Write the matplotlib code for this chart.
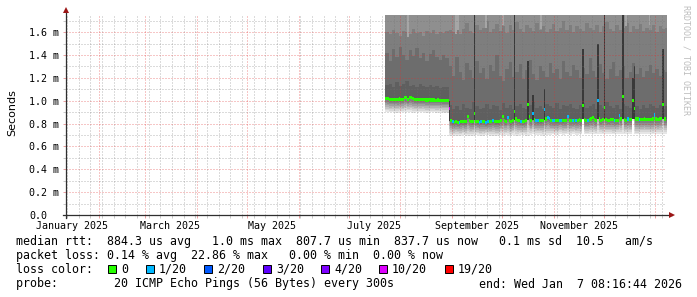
import numpy as np
import pandas as pd
import matplotlib
matplotlib.use("Agg")
import matplotlib.pyplot as plt
import matplotlib.dates as mdates
from matplotlib.ticker import MultipleLocator, NullFormatter
from matplotlib.patches import Rectangle
from matplotlib.transforms import blended_transform_factory

plt.rcParams['font.family'] = ['DejaVu Sans Mono']

W, H = 697, 297

# graph window: 360 days up to "end"
end = pd.Timestamp('2026-01-07 08:16:44')
start = end - pd.Timedelta(days=360)
first_day = pd.Timestamp('2025-07-23')

# daily median rtt (ms), from 2025-07-23
median_ms = [
    1.022, 1.018, 1.008, 1.008, 1.01, 1.008, 1.01, 1.008, 1.015, 1.01,
    1.008, 1.028, 1.032, 1.01, 1.025, 1.03, 1.018, 1.01, 1.008, 1.012,
    1.008, 1.008, 1.01, 1.008, 1.006, 1.006, 1.008, 1.006, 1.006, 1.006,
    1.005, 1.006, 1.005, 1.005, 1.004, 1.004, 1.004, 1.002,
    0.935,
    0.83, 0.815, 0.81, 0.815, 0.81, 0.81, 0.815, 0.82, 0.815, 0.815,
    0.86, 0.83, 0.82, 0.815, 0.885, 0.82, 0.815, 0.81, 0.815, 0.82,
    0.815, 0.81, 0.815, 0.82, 0.82, 0.825, 0.82, 0.815, 0.815, 0.82,
    0.83, 0.86, 0.83, 0.82, 0.85, 0.83, 0.82, 0.825, 0.905, 0.84,
    0.83, 0.825, 0.82, 0.82, 0.815, 0.83, 0.97, 0.86, 0.83, 0.89,
    0.835, 0.83, 0.825, 0.83, 0.825, 0.83, 0.92, 0.84, 0.85, 0.845,
    0.83, 0.825, 0.83, 0.825, 0.825, 0.83, 0.83, 0.825, 0.83, 0.825,
    0.865, 0.83, 0.83, 0.825, 0.83, 0.825, 0.83, 0.835, 0.83, 0.96,
    0.835, 0.83, 0.83, 0.835, 0.84, 0.85, 0.835, 0.83, 1.0, 0.84,
    0.83, 0.835, 0.94, 0.835, 0.83, 0.83, 0.835, 0.835, 0.83, 0.83,
    0.83, 0.87, 0.84, 1.04, 0.835, 0.83, 0.84, 0.835, 0.835, 1.0,
    0.935, 0.84, 0.84, 0.835, 0.835, 0.835, 0.84, 0.835, 0.835, 0.835,
    0.835, 0.84, 0.875, 0.84, 0.835, 0.84, 0.845, 0.97, 0.84, 0.84,
]

# days (index from 2025-07-23) with packet loss, and lost pings out of 20
loss_days = [38, 40, 44, 56, 57, 60, 61, 64, 73, 81, 88, 90, 91, 95, 97,
             98, 100, 101, 104, 105, 109, 112, 114, 121, 127, 137, 140, 145, 152, 161]
loss_vals = [10, 1, 1, 1, 1, 1, 1, 1, 1, 1, 1, 1, 1, 1, 1,
             1, 1, 1, 1, 1, 1, 1, 1, 1, 1, 1, 1, 1, 1, 1]

# smoke, one value per 2 days (ms)
smoke_low = [
    0.90, 0.90, 0.90, 0.895, 0.90, 0.90, 0.905, 0.90, 0.895, 0.90,
    0.90, 0.90, 0.895, 0.90, 0.90, 0.895, 0.90, 0.89, 0.89,
    0.69, 0.69, 0.695, 0.69, 0.70, 0.69, 0.69, 0.695, 0.70, 0.69,
    0.69, 0.70, 0.69, 0.695, 0.69, 0.70, 0.695, 0.70, 0.69, 0.70,
    0.695, 0.70, 0.70, 0.69, 0.70, 0.705, 0.70, 0.70, 0.695, 0.70,
    0.70, 0.705, 0.70, 0.71, 0.70, 0.705, 0.70, 0.71, 0.70, 0.705,
    0.71, 0.705, 0.71, 0.71, 0.705, 0.71, 0.705, 0.71, 0.71, 0.705,
    0.71, 0.71, 0.705, 0.71, 0.71, 0.71, 0.705, 0.71, 0.71, 0.71,
    0.71, 0.705, 0.71, 0.71, 0.71, 0.71,
]
smoke_q1 = [
    1.14, 1.15, 1.12, 1.16, 1.13, 1.15, 1.17, 1.13, 1.14, 1.12,
    1.15, 1.13, 1.12, 1.14, 1.12, 1.13, 1.11, 1.12, 1.12,
    0.96, 0.93, 0.95, 0.92, 0.97, 0.94, 0.93, 0.99, 0.95, 0.93,
    0.94, 0.97, 0.93, 0.96, 0.95, 0.92, 0.98, 0.94, 0.96, 0.93,
    0.95, 0.97, 0.94, 0.93, 0.96, 0.99, 0.94, 0.95, 0.93, 0.97,
    0.95, 0.94, 0.98, 0.93, 0.96, 0.95, 0.97, 0.94, 0.93, 0.96,
    0.98, 0.94, 0.95, 0.97, 0.93, 0.96, 0.94, 0.99, 0.95, 0.94,
    0.96, 0.93, 0.97, 0.95, 0.94, 0.98, 0.95, 0.93, 0.96, 0.94,
    0.97, 0.95, 0.94, 0.96, 0.93, 0.95,
]
smoke_q2 = [
    1.42, 1.35, 1.45, 1.38, 1.47, 1.40, 1.36, 1.44, 1.39, 1.46,
    1.37, 1.42, 1.35, 1.41, 1.44, 1.38, 1.36, 1.40, 1.37,
    1.30, 1.22, 1.38, 1.25, 1.18, 1.33, 1.27, 1.20, 1.35, 1.24,
    1.29, 1.19, 1.31, 1.26, 1.40, 1.22, 1.17, 1.28, 1.34, 1.21,
    1.25, 1.32, 1.19, 1.27, 1.36, 1.23, 1.18, 1.30, 1.26, 1.21,
    1.33, 1.24, 1.28, 1.19, 1.35, 1.25, 1.22, 1.31, 1.27, 1.20,
    1.29, 1.23, 1.37, 1.26, 1.21, 1.32, 1.24, 1.19, 1.28, 1.34,
    1.22, 1.27, 1.30, 1.20, 1.25, 1.33, 1.23, 1.29, 1.21, 1.26,
    1.31, 1.24, 1.28, 1.22, 1.27, 1.25,
]
smoke_q3 = [
    1.60, 1.58, 1.62, 1.59, 1.57, 1.61, 1.60, 1.58, 1.63, 1.59,
    1.60, 1.57, 1.61, 1.59, 1.62, 1.58, 1.60, 1.59, 1.61,
    1.62, 1.60, 1.65, 1.58, 1.63, 1.68, 1.61, 1.59, 1.66, 1.62,
    1.64, 1.70, 1.60, 1.63, 1.67, 1.61, 1.65, 1.59, 1.66, 1.62,
    1.69, 1.63, 1.60, 1.66, 1.64, 1.61, 1.68, 1.62, 1.65, 1.60,
    1.63, 1.67, 1.61, 1.64, 1.70, 1.62, 1.66, 1.60, 1.65, 1.63,
    1.61, 1.68, 1.64, 1.62, 1.66, 1.60, 1.65, 1.69, 1.63, 1.61,
    1.66, 1.62, 1.64, 1.68, 1.60, 1.65, 1.63, 1.67, 1.61, 1.64,
    1.62, 1.66, 1.60, 1.65, 1.63, 1.64,
]

# dark streaks (day index, bottom, top in ms)
spike_days = [38, 53, 77, 85, 88, 95, 118, 127, 131, 142, 148, 149, 166]
spike_bot = [0.82, 0.83, 0.83, 0.83, 0.83, 0.83, 0.84, 0.84, 0.84, 0.84, 0.84, 0.84, 0.84]
spike_top = [1.00, 1.80, 1.80, 1.35, 1.05, 1.10, 1.45, 1.50, 1.80, 1.80, 1.20, 1.30, 1.45]

# light streaks at the top of the smoke
light_days = [13, 42, 43, 60, 70, 93, 144, 158]
light_bot = [1.56, 1.58, 1.62, 1.64, 1.66, 1.63, 1.65, 1.66]

# columns where the smoke stops right at the median
notch_days = [118, 148]
notch_low = [0.83, 0.82]

loss_levels = [0, 1, 2, 3, 4, 10, 19]
loss_names = ['0', '1/20', '2/20', '3/20', '4/20', '10/20', '19/20']
loss_colors = ['#26ff00', '#00b8ff', '#0059ff', '#5e00ff', '#7e00ff', '#dd00ff', '#ff0000']
loss_box_x = [108, 146, 204, 263, 321, 379, 445]

yticks = [0.0, 0.2, 0.4, 0.6, 0.8, 1.0, 1.2, 1.4, 1.6]
ylabels = ['0.0', '0.2 m', '0.4 m', '0.6 m', '0.8 m', '1.0 m', '1.2 m', '1.4 m', '1.6 m']
month_labels = ['January 2025', 'March 2025', 'May 2025', 'July 2025',
                'September 2025', 'November 2025']
month_label_at = ['2025-01-16', '2025-03-16', '2025-05-16', '2025-07-16',
                  '2025-09-16', '2025-11-16']

fig = plt.figure(figsize=(W / 100, H / 100), dpi=100)
fig.patch.set_facecolor('white')
ax = fig.add_axes([66 / W, 82 / H, 600 / W, 200 / H])
ax.xaxis_date()

n = len(median_ms)
med = np.array(median_ms)
xe = mdates.date2num(pd.date_range(first_day, periods=n + 1, freq='D').to_pydatetime())
xd = xe[:-1]


def daily(a):
    return np.repeat(np.array(a, dtype=float), 2)[:n]


low = daily(smoke_low)
for d, v in zip(notch_days, notch_low):
    low[d] = v
q1 = np.maximum(daily(smoke_q1), med)
q2 = np.maximum(daily(smoke_q2), med)
q3 = np.maximum(daily(smoke_q3), med)
TOP = 1.9


def band(lo, hi, color, z=1):
    lo = np.broadcast_to(lo, (n,))
    hi = np.broadcast_to(hi, (n,))
    ax.fill_between(xe, np.append(lo, lo[-1]), np.append(hi, hi[-1]),
                    step='post', color=color, lw=0, zorder=z)


band(low, TOP, '#8f8f8f')
band(med, q3, '#7e7e7e')
band(med, q2, '#6d6d6d')
band(med, q1, '#5f5f5f')

ld = np.array(light_days)
ax.bar(xd[ld], TOP - np.array(light_bot), bottom=light_bot, width=1, align='edge',
       color='#a6a6a6', lw=0, zorder=1)

grad = ['#e6e6e6', '#d6d6d6', '#c4c4c4', '#b2b2b2', '#a0a0a0', '#8f8f8f', '#808080', '#737373']
for k, c in enumerate(grad):
    band(low + (med - low) * k / len(grad), med, c)

sd = np.array(spike_days)
ax.bar(xd[sd] + 0.15, np.array(spike_top) - np.array(spike_bot), bottom=spike_bot,
       width=0.75, align='edge', color='#393939', lw=0, zorder=1.5)

# median, coloured by loss
loss = np.zeros(n, dtype=int)
loss[loss_days] = loss_vals
cmap = dict(zip(loss_levels, loss_colors))
w = 0.0135
ax.bar(xd, 2 * w, bottom=med - w, width=1, align='edge',
       color=[cmap[v] for v in loss], lw=0, zorder=3)

# axes, grid
ax.set_xlim(mdates.date2num(start), mdates.date2num(end))
ax.set_ylim(0, 1.75)
ax.xaxis.set_major_locator(mdates.MonthLocator())
ax.xaxis.set_minor_locator(mdates.WeekdayLocator(byweekday=mdates.MO))
ax.xaxis.set_major_formatter(NullFormatter())
ax.xaxis.set_minor_formatter(NullFormatter())
ax.yaxis.set_minor_locator(MultipleLocator(0.1))
ax.set_yticks(yticks)
ax.set_yticklabels(ylabels, ha='left', fontsize=7.2)
ax.set_axisbelow(False)
dots = (0, (1, 2))
red = '#e03030'
gray = '#707070'
ax.grid(which='major', color=red, alpha=0.55, linestyle=dots, linewidth=0.72)
ax.grid(which='minor', color=gray, alpha=0.5, linestyle=dots, linewidth=0.72)
ax.tick_params(axis='y', which='major', length=2.5, width=0.7, color='#eba0a0', pad=23.8)
ax.tick_params(axis='both', which='minor', length=2, width=0.7, color='#c8c8c8')
ax.tick_params(axis='x', which='major', length=2.5, width=0.7, color='#eba0a0')
for s in ax.spines.values():
    s.set_visible(False)
ax.set_facecolor('white')

axis_col = '#2f2f2f'
arrow_col = '#9b1515'
ax.plot([0, 0], [-3 / 200, 1 + 5 / 200], transform=ax.transAxes, color=axis_col,
        lw=0.9, clip_on=False, zorder=5)
ax.plot([-3 / 600, 1 + 6 / 600], [0, 0], transform=ax.transAxes, color=axis_col,
        lw=0.9, clip_on=False, zorder=5)
ax.plot([0], [1 + 5 / 200], marker='^', ms=4, color=arrow_col, transform=ax.transAxes,
        clip_on=False, zorder=6, mew=0)
ax.plot([1 + 6 / 600], [0], marker='>', ms=4, color=arrow_col, transform=ax.transAxes,
        clip_on=False, zorder=6, mew=0)

tr = blended_transform_factory(ax.transData, ax.transAxes)
for lab, d in zip(month_labels, month_label_at):
    ax.text(mdates.date2num(pd.Timestamp(d)), -14 / 200, lab, transform=tr,
            ha='center', va='baseline', fontsize=7.2, clip_on=False)

fig.text(12 / W, 1 - 113 / H, 'Seconds', rotation=90, ha='center', va='center',
         fontsize=8, family='DejaVu Sans')
fig.text(686 / W, 1 - 60 / H, 'RRDTOOL / TOBI OETIKER', rotation=270, ha='center',
         va='center', fontsize=6, color='#bdbdbd')

# legend block
fs = 8.35
lines = [
    'median rtt:  884.3 us avg   1.0 ms max  807.7 us min  837.7 us now   0.1 ms sd  10.5   am/s',
    'packet loss: 0.14 % avg  22.86 % max   0.00 % min  0.00 % now',
    'loss color:',
    'probe:        20 ICMP Echo Pings (56 Bytes) every 300s',
]
base = [245.5, 259.5, 273, 287.5]
for t, b in zip(lines, base):
    fig.text(16 / W, 1 - b / H, t, ha='left', va='baseline', fontsize=fs)
fig.text(682 / W, 1 - base[3] / H, 'end: Wed Jan  7 08:16:44 2026', ha='right',
         va='baseline', fontsize=fs)
for x0, c, name in zip(loss_box_x, loss_colors, loss_names):
    fig.add_artist(Rectangle((x0 / W, 1 - 273 / H), 8 / W, 8 / H, transform=fig.transFigure,
                             facecolor=c, edgecolor='black', lw=0.7))
    fig.text((x0 + 13) / W, 1 - base[2] / H, name, ha='left', va='baseline', fontsize=fs)

fig.savefig('out.png', dpi=100)
